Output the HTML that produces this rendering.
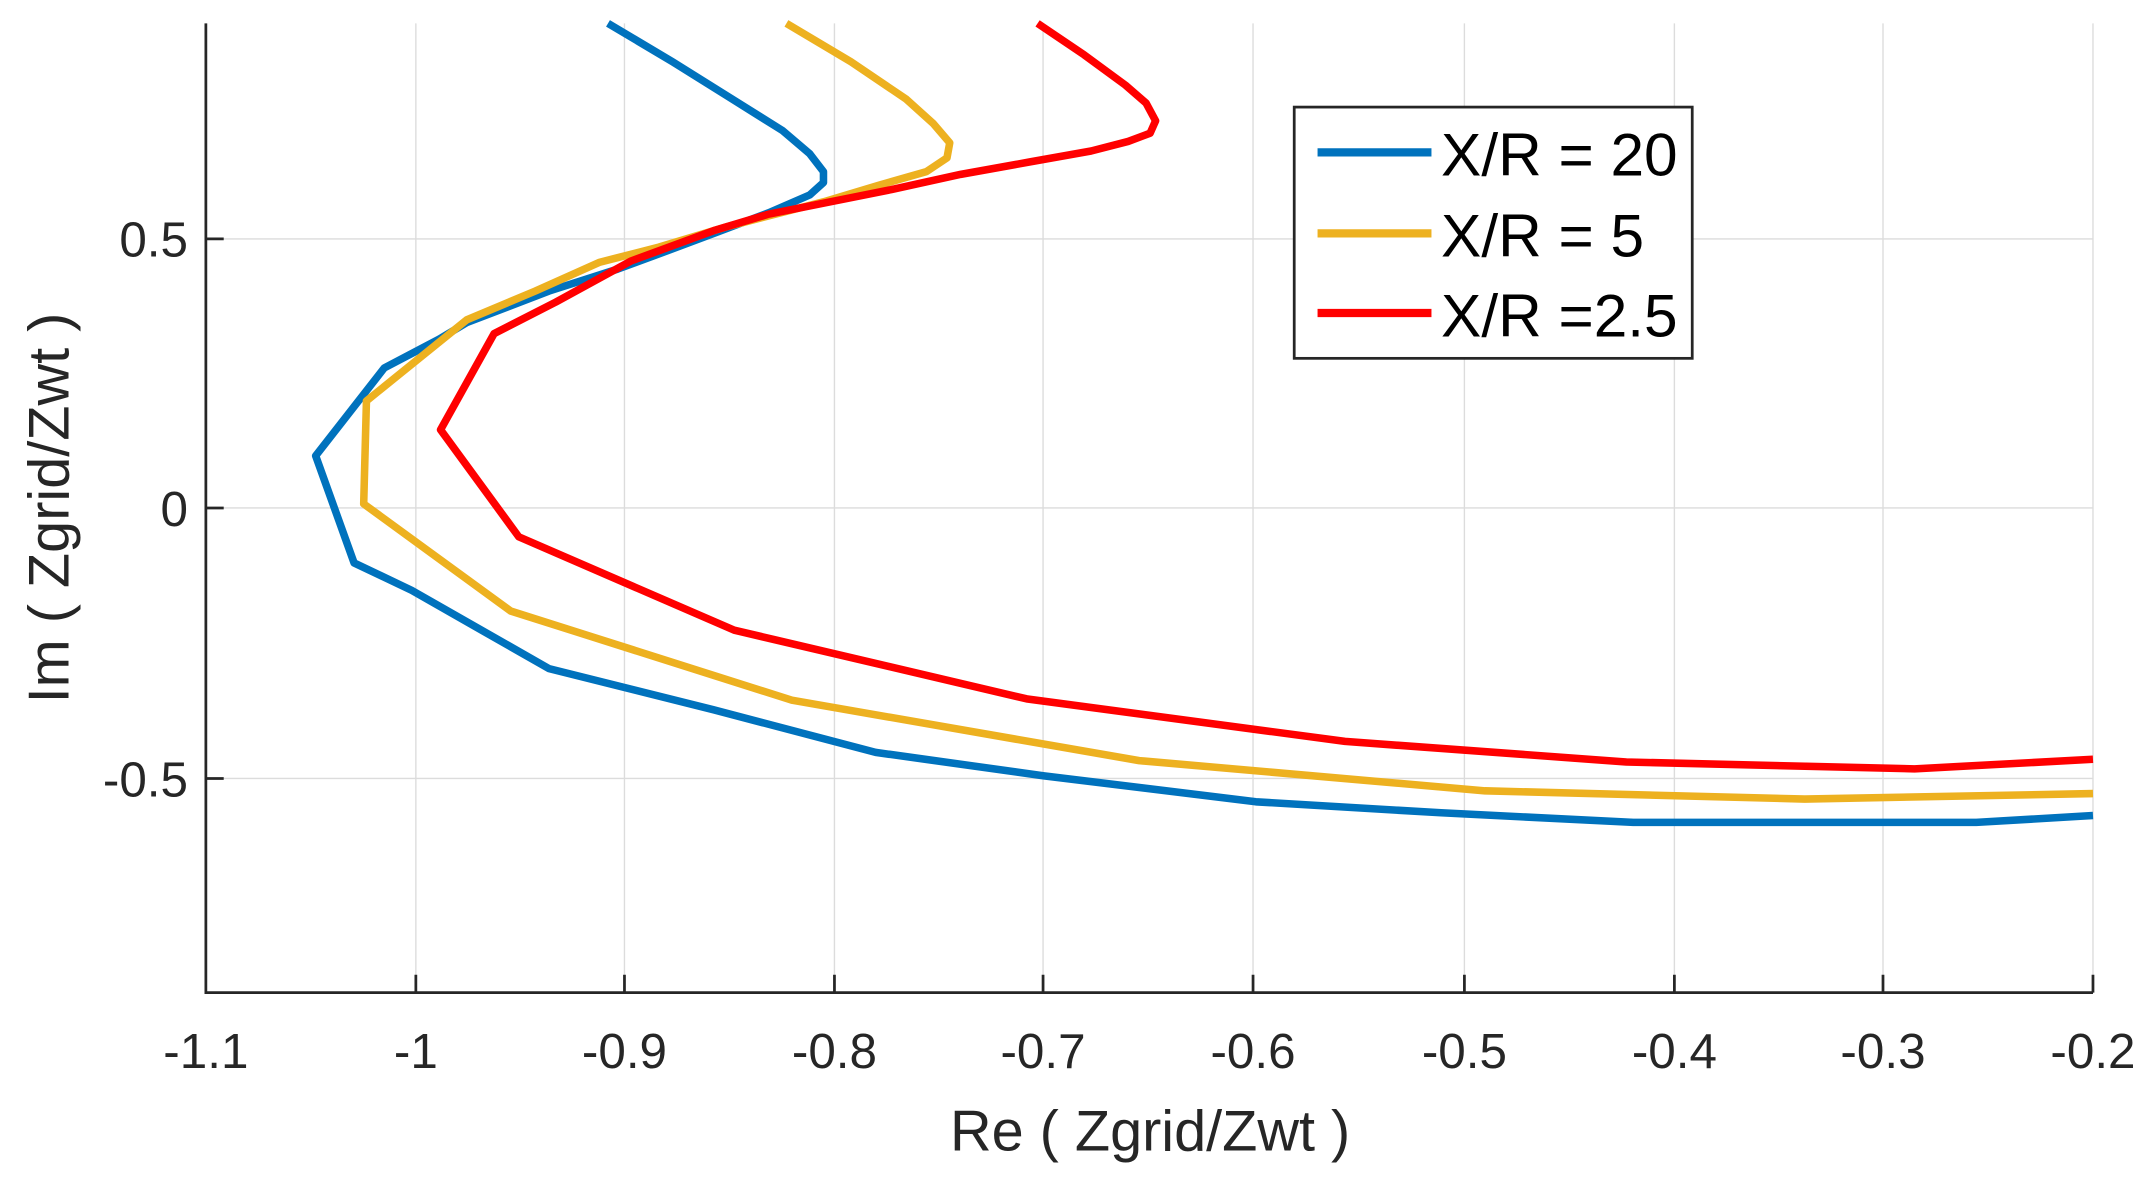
<!DOCTYPE html>
<html><head><meta charset="utf-8"><style>html,body{margin:0;padding:0;background:#fff}svg{display:block}</style></head>
<body>
<svg width="2152" height="1178" viewBox="0 0 1568 858" preserveAspectRatio="none" xmlns="http://www.w3.org/2000/svg" font-family="Liberation Sans, Arial, sans-serif">
<rect width="1568" height="858" fill="#fff"/>
<g stroke="#dcdcdc" stroke-width="1">
<line x1="303" y1="17" x2="303" y2="723"/><line x1="455" y1="17" x2="455" y2="723"/><line x1="608" y1="17" x2="608" y2="723"/><line x1="760" y1="17" x2="760" y2="723"/><line x1="913" y1="17" x2="913" y2="723"/><line x1="1067" y1="17" x2="1067" y2="723"/><line x1="1220" y1="17" x2="1220" y2="723"/><line x1="1372" y1="17" x2="1372" y2="723"/><line x1="1525" y1="17" x2="1525" y2="723"/>
<line x1="150" y1="174" x2="1525" y2="174"/><line x1="150" y1="370" x2="1525" y2="370"/><line x1="150" y1="567" x2="1525" y2="567"/>
</g>
<g fill="none" stroke-width="5.5" stroke-linejoin="round" stroke-linecap="butt">
<polyline stroke="#0072BD" points="443,17 490,45 530,70 570,95 590,112 600,125 600,133 590,142 560,155 520,170 480,185 450,196 400,212 340,235 320,247 280,268 230,332 258,410 300,430 400,487 520,517 638,548 760,565 915,584 1050,592 1190,599 1440,599 1525,594"/>
<polyline stroke="#EDB120" points="573,17 620,45 660,72 680,90 692,104 690,115 675,125 640,135 600,147 530,165 480,180 437,191 390,212 340,233 267,292 265,367 372,445 577,510 830,554 1082,576 1315,582 1525,578"/>
<polyline stroke="#FF0000" points="756,17 790,40 820,62 835,75 842,88 838,97 822,103 795,110 750,118 700,127 650,138 600,148 560,156 520,168 460,190 405,220 360,243 321,313 378,391 535,459 748,509 980,540 1185,555 1395,560 1525,553"/>
</g>
<g stroke="#262626" stroke-width="2" fill="none">
<polyline points="150,17 150,723 1525,723"/>
<path d="M303,723v-13M455,723v-13M608,723v-13M760,723v-13M913,723v-13M1067,723v-13M1220,723v-13M1372,723v-13M1525,723v-13M150,174h13M150,370h13M150,567h13"/>
</g>
<g fill="#262626" font-size="36" text-anchor="middle">
<text x="150" y="778">-1.1</text><text x="303" y="778">-1</text><text x="455" y="778">-0.9</text><text x="608" y="778">-0.8</text><text x="760" y="778">-0.7</text><text x="913" y="778">-0.6</text><text x="1067" y="778">-0.5</text><text x="1220" y="778">-0.4</text><text x="1372" y="778">-0.3</text><text x="1525" y="778">-0.2</text>
</g>
<g fill="#262626" font-size="36" text-anchor="end">
<text x="137" y="187">0.5</text><text x="137" y="383">0</text><text x="137" y="580">-0.5</text>
</g>
<text x="838" y="838" font-size="42" fill="#262626" text-anchor="middle">Re ( Zgrid/Zwt )</text>
<text transform="translate(50,370) rotate(-90)" font-size="42" fill="#262626" text-anchor="middle">Im ( Zgrid/Zwt )</text>
<rect x="943" y="78" width="290" height="183" fill="#fff" stroke="#262626" stroke-width="2"/>
<g stroke-width="6"><line x1="960" y1="111" x2="1043" y2="111" stroke="#0072BD"/><line x1="960" y1="170" x2="1043" y2="170" stroke="#EDB120"/><line x1="960" y1="228" x2="1043" y2="228" stroke="#FF0000"/></g>
<g font-size="44" fill="#000"><text x="1050" y="128">X/R = 20</text><text x="1050" y="187">X/R = 5</text><text x="1050" y="245">X/R =2.5</text></g>
</svg>
</body></html>
